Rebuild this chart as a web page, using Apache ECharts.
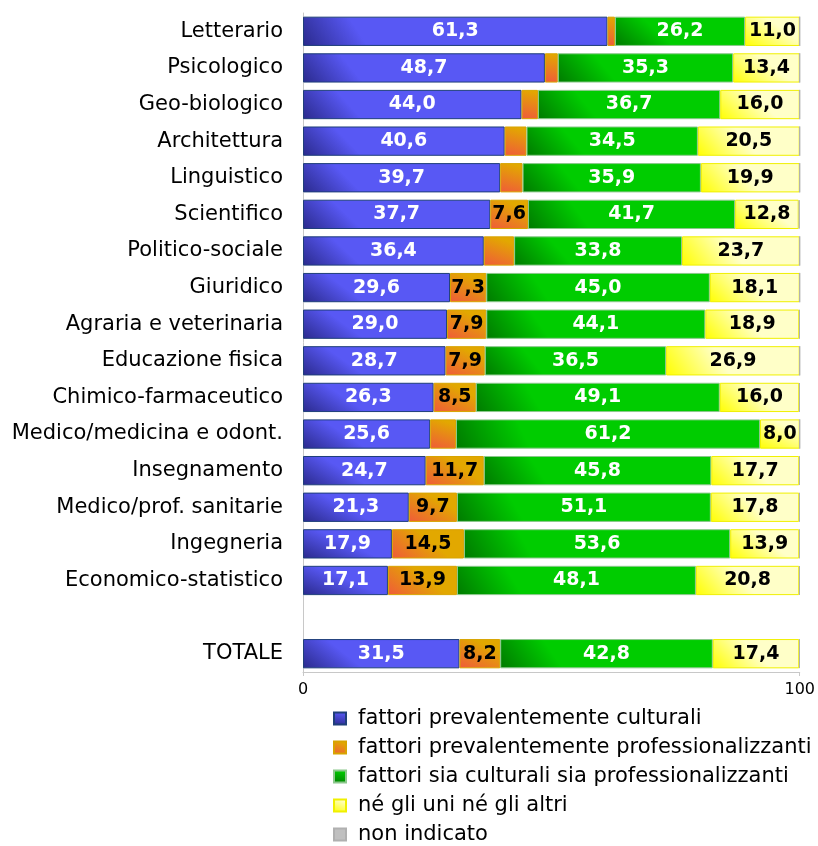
<!DOCTYPE html>
<html>
<head>
<meta charset="utf-8">
<script src="https://cdn.jsdelivr.net/npm/echarts@6/dist/echarts.min.js"></script>
<style>
  html, body { margin: 0; padding: 0; background: #fff; }
  #chart { width: 818px; height: 846px; }
</style>
</head>
<body>
<div id="chart"></div>
<script>
// categorie (riga vuota prima del totale)
const categories = [
  'Letterario', 'Psicologico', 'Geo-biologico', 'Architettura', 'Linguistico',
  'Scientifico', 'Politico-sociale', 'Giuridico', 'Agraria e veterinaria',
  'Educazione fisica', 'Chimico-farmaceutico', 'Medico/medicina e odont.',
  'Insegnamento', 'Medico/prof. sanitarie', 'Ingegneria', 'Economico-statistico',
  '', 'TOTALE'
]

const culturali = [61.3, 48.7, 44.0, 40.6, 39.7, 37.7, 36.4, 29.6, 29.0, 28.7, 26.3, 25.6, 24.7, 21.3, 17.9, 17.1, null, 31.5]
const professionalizzanti = [1.5, 2.6, 3.3, 4.4, 4.5, 7.6, 6.1, 7.3, 7.9, 7.9, 8.5, 5.2, 11.7, 9.7, 14.5, 13.9, null, 8.2]
const entrambi = [26.2, 35.3, 36.7, 34.5, 35.9, 41.7, 33.8, 45.0, 44.1, 36.5, 49.1, 61.2, 45.8, 51.1, 53.6, 48.1, null, 42.8]
const nessuno = [11.0, 13.4, 16.0, 20.5, 19.9, 12.8, 23.7, 18.1, 18.9, 26.9, 16.0, 8.0, 17.7, 17.8, 13.9, 20.8, null, 17.4]
const nonIndicato = [0, 0, 0, 0, 0, 0.2, 0, 0, 0.1, 0, 0.1, 0, 0.1, 0.1, 0.1, 0.1, null, 0.1]

const FONT = 'DejaVu Sans'

// gradiente "ad angolo" come in Excel
const grad = (dark, light, x2) => ({
  type: 'linear', x: 0, y: 1, x2: x2, y2: 0,
  colorStops: [{ offset: 0, color: dark }, { offset: 1, color: light }]
})

const fmt = p => (p.value == null || p.value < 7) ? '' : p.value.toFixed(1).replace('.', ',')

const makeSeries = (name, data, color, border, labelColor) => ({
  name,
  type: 'bar',
  stack: 'tot',
  data,
  barCategoryGap: '20%',
  itemStyle: { color, borderColor: border, borderWidth: 1 },
  label: {
    show: labelColor != null,
    position: 'inside',
    formatter: fmt,
    color: labelColor,
    fontFamily: FONT,
    fontWeight: 'bold',
    fontSize: 19
  },
  emphasis: { disabled: true }
})

const chart = echarts.init(document.getElementById('chart'))
chart.setOption({
  animation: false,
  grid: { left: 303, right: 17, top: 13, bottom: 174 },
  legend: {
    orient: 'vertical',
    left: 333,
    top: 708,
    padding: 0,
    icon: 'rect',
    itemWidth: 12,
    itemHeight: 12,
    itemGap: 8,
    selectedMode: false,
    textStyle: { fontFamily: FONT, fontSize: 21, color: '#000', lineHeight: 21, padding: [0, 0, 0, 7] }
  },
  xAxis: {
    type: 'value',
    min: 0,
    max: 100,
    interval: 100,
    axisLine: { show: true, lineStyle: { color: '#c8c8c8' } },
    axisTick: { show: true, length: 4, lineStyle: { color: '#c8c8c8' } },
    splitLine: { show: false },
    axisLabel: { fontFamily: FONT, fontSize: 16, color: '#000', margin: 10 }
  },
  yAxis: {
    type: 'category',
    data: categories,
    inverse: true,
    axisLine: { show: true, lineStyle: { color: '#c8c8c8' } },
    axisTick: { show: false },
    axisLabel: { fontFamily: FONT, fontSize: 21, color: '#000', margin: 20 }
  },
  series: [
    makeSeries('fattori prevalentemente culturali', culturali, grad('#2a2a8c', '#5858f4', 0.15), '#1f3f7a', '#fff'),
    makeSeries('fattori prevalentemente professionalizzanti', professionalizzanti, grad('#f05a3a', '#e2a800', 0.35), '#d8a400', '#000'),
    makeSeries('fattori sia culturali sia professionalizzanti', entrambi, grad('#007a00', '#00cc00', 0.2), '#8cc88c', '#fff'),
    makeSeries('né gli uni né gli altri', nessuno, grad('#ffff00', '#ffffc8', 0.35), '#f0f000', '#000'),
    makeSeries('non indicato', nonIndicato, '#c0c0c0', '#b0b0b0', null)
  ]
})
</script>
</body>
</html>
